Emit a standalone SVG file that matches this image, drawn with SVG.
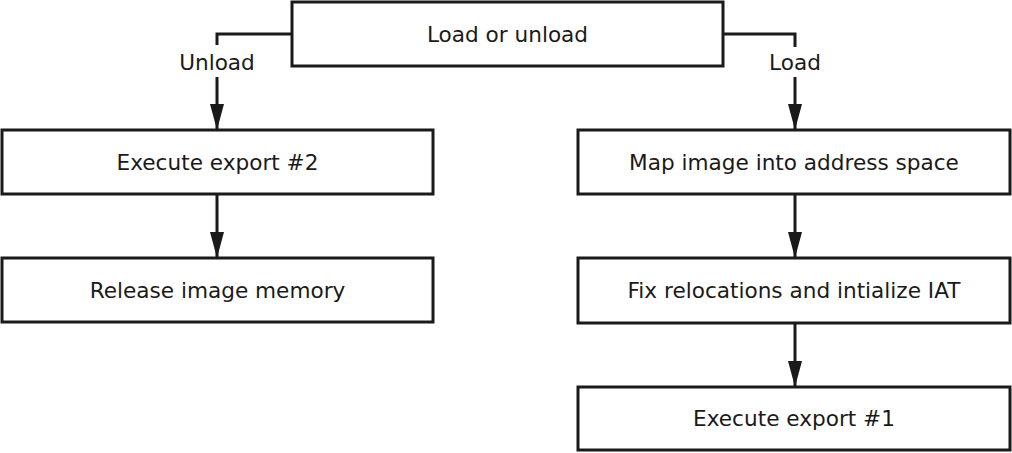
<svg xmlns="http://www.w3.org/2000/svg" width="1012" height="453" viewBox="0 0 1012 453">
<style>
.box{fill:#fff;stroke:#1a1a1a;stroke-width:3}
.t{font-family:"DejaVu Sans","Liberation Sans",sans-serif;font-size:21.6px;fill:#1a1a1a;text-anchor:middle}
.c{fill:none;stroke:#1a1a1a;stroke-width:3}
</style>
<defs>
<marker id="ah" markerUnits="userSpaceOnUse" markerWidth="26" markerHeight="14" viewBox="0 0 26 14" refX="26" refY="7" orient="auto">
<path d="M0,0 L26,7 L0,14 z" fill="#1a1a1a"/>
</marker>
</defs>
<rect width="1012" height="453" fill="#fff"/>
<g id="connectors">
<polyline class="c" points="292,34 217,34 217,45"/>
<line class="c" x1="217" y1="77" x2="217" y2="130" marker-end="url(#ah)"/>
<polyline class="c" points="723,34 795,34 795,47"/>
<line class="c" x1="795" y1="77" x2="795" y2="130" marker-end="url(#ah)"/>
<line class="c" x1="217" y1="194" x2="217" y2="258" marker-end="url(#ah)"/>
<line class="c" x1="795" y1="194" x2="795" y2="258" marker-end="url(#ah)"/>
<line class="c" x1="795" y1="323" x2="795" y2="387" marker-end="url(#ah)"/>
</g>
<g id="labels">
<text class="t" x="217" y="70">Unload</text>
<text class="t" x="795" y="70">Load</text>
</g>
<g id="node-load-or-unload">
<rect class="box" x="292" y="2" width="431" height="64"/>
<text class="t" x="507.5" y="42">Load or unload</text>
</g>
<g id="node-execute-export-2">
<rect class="box" x="2" y="130" width="431" height="64"/>
<text class="t" x="217.5" y="170">Execute export #2</text>
</g>
<g id="node-release-image-memory">
<rect class="box" x="2" y="258" width="431" height="64"/>
<text class="t" x="217.5" y="298">Release image memory</text>
</g>
<g id="node-map-image">
<rect class="box" x="578" y="130" width="432" height="64"/>
<text class="t" x="794" y="170">Map image into address space</text>
</g>
<g id="node-fix-relocations">
<rect class="box" x="578" y="258" width="432" height="65"/>
<text class="t" x="794" y="298">Fix relocations and intialize IAT</text>
</g>
<g id="node-execute-export-1">
<rect class="box" x="578" y="387" width="432" height="63"/>
<text class="t" x="794" y="426">Execute export #1</text>
</g>
</svg>
